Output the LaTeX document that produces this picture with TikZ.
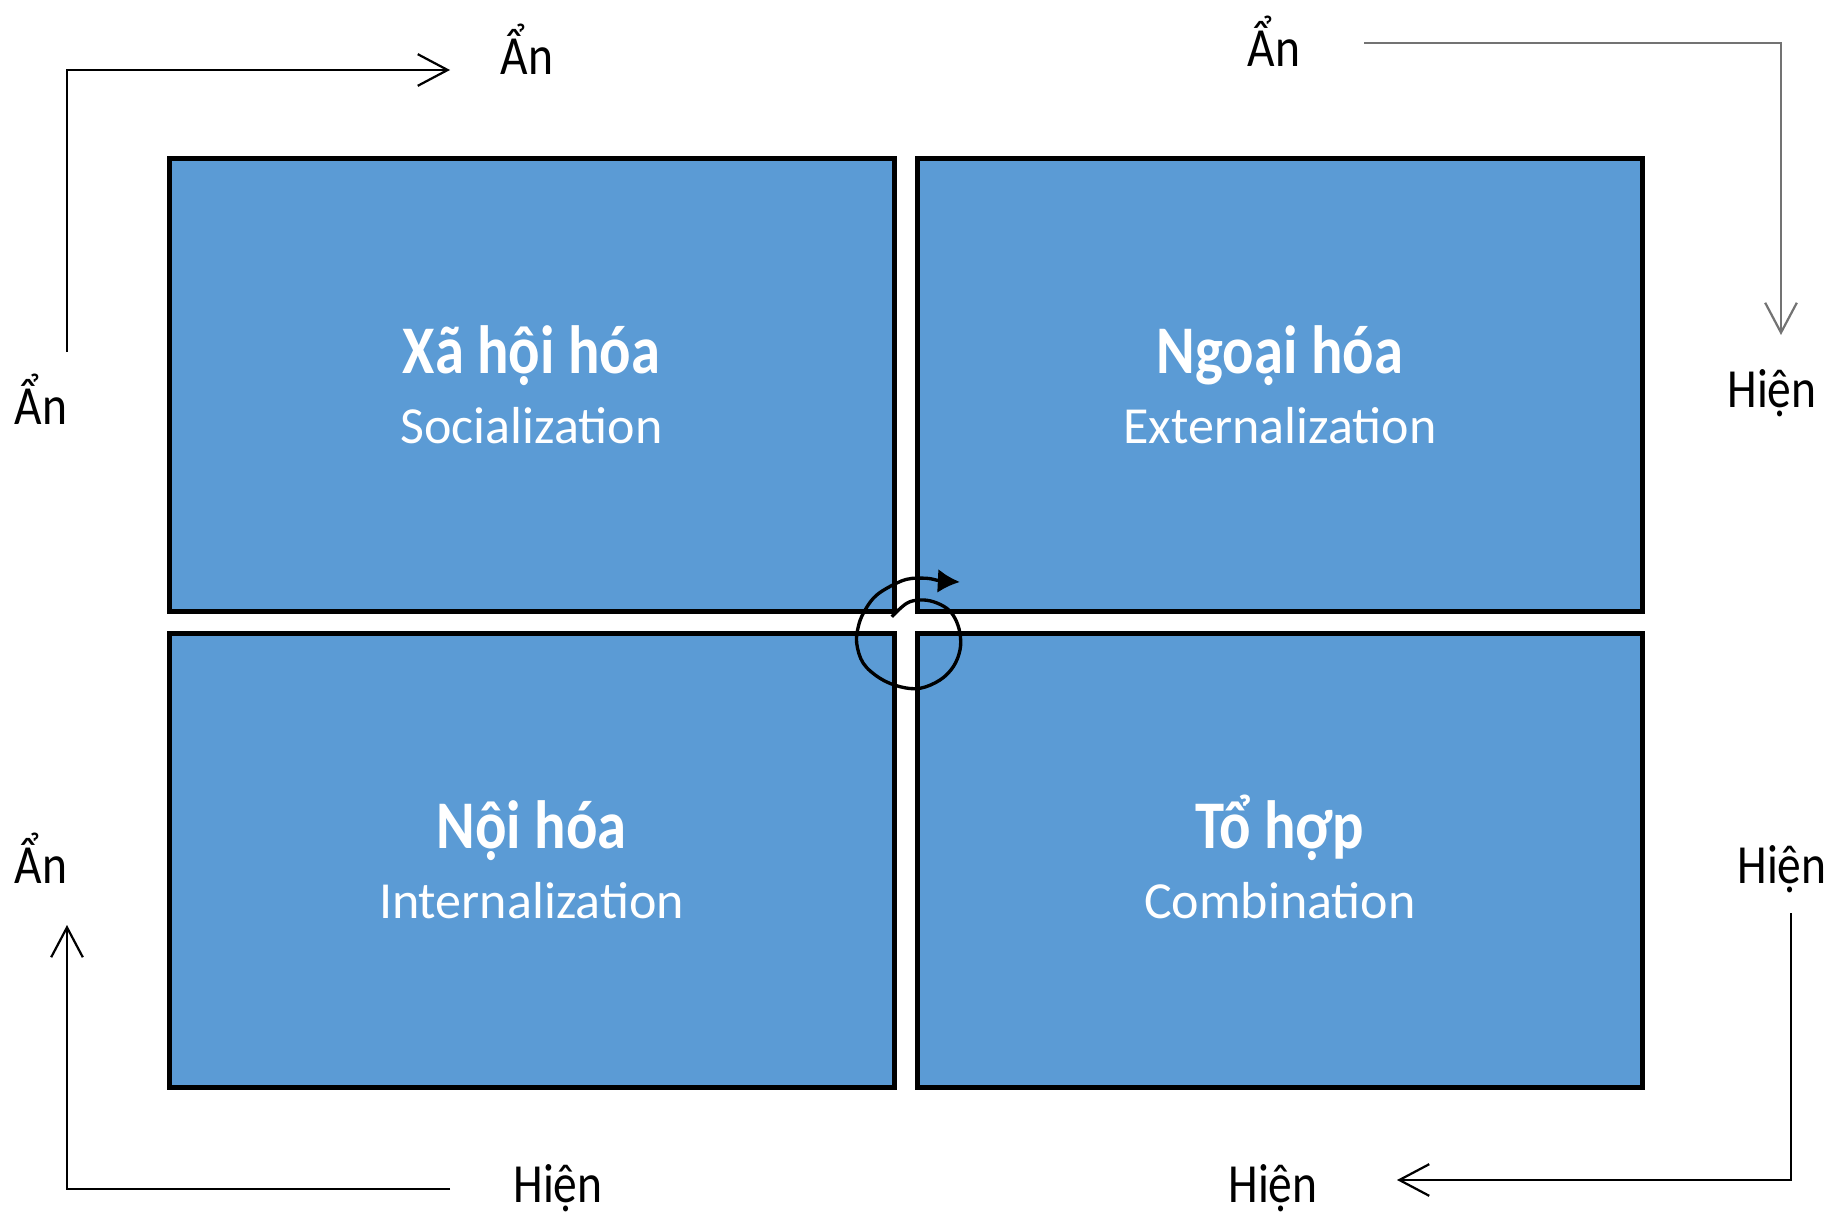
\documentclass[tikz,border=0pt]{standalone}
\usepackage{fontspec}
\setmainfont{Carlito}
\newfontfamily\narrowfont{Carlito}[FakeStretch=0.86]
\usetikzlibrary{arrows.meta}
\definecolor{quadblue}{HTML}{5B9BD5}
\begin{document}
\begin{tikzpicture}[x=0.01cm, y=-0.01cm,
  quad/.style={draw=black, fill=quadblue, line width=1.42pt,
    minimum width=7.25cm, minimum height=4.53cm, inner sep=0pt, outer sep=0pt},
  headtext/.style={anchor=base, text=white, inner sep=0pt,
    font=\narrowfont\bfseries\fontsize{19.4pt}{20pt}\selectfont},
  subtext/.style={anchor=base, text=white, inner sep=0pt,
    font=\fontsize{14.8pt}{16pt}\selectfont},
  side/.style={anchor=base, inner sep=0pt,
    font=\narrowfont\fontsize{15.7pt}{17pt}\selectfont},
  flow/.style={line width=0.63pt, -{Straight Barb[length=8.5pt, width=9pt]}}]
  \useasboundingbox (0,0) rectangle (1841,1212);

  \node[quad] (soc) at (532,385) {};
  \node[quad] (ext) at (1280,385) {};
  \node[quad] (int) at (532,860.5) {};
  \node[quad] (com) at (1280,860.5) {};

  \node[headtext] (socH) at (531.5,373) {Xã hội hóa};
  \node[subtext] (socS) at (531.5,443) {Socialization};
  \node[headtext] (extH) at (1280,373) {Ngoại hóa};
  \node[subtext] (extS) at (1280,443) {Externalization};
  \node[headtext] (intH) at (531.5,848.5) {Nội hóa};
  \node[subtext] (intS) at (531.5,918.5) {Internalization};
  \node[headtext] (comH) at (1280,848.5) {Tổ hợp};
  \node[subtext] (comS) at (1280,918.5) {Combination};

  \node[side] (anTop) at (527,74) {Ẩn};
  \node[side] (anLeft) at (41,424) {Ẩn};
  \node[side] (anRight) at (1274,66) {Ẩn};
  \node[side] (hienRight) at (1772,407) {Hiện};
  \node[side] (hienLow) at (1782,883) {Hiện};
  \node[side] (hienBotR) at (1273,1202) {Hiện};
  \node[side] (hienBotL) at (558,1202) {Hiện};
  \node[side] (anLow) at (41,883) {Ẩn};

  \coordinate (tlStart) at (67,352);
  \coordinate (tlEnd) at (450,70);
  \coordinate (trStart) at (1364,43);
  \coordinate (trEnd) at (1781,335);
  \coordinate (brStart) at (1791,913);
  \coordinate (brEnd) at (1397,1180);
  \coordinate (blStart) at (450,1189);
  \coordinate (blEnd) at (67,925);
  \draw[flow] (tlStart) |- (tlEnd);
  \draw[flow, draw=black!55] (trStart) -| (trEnd);
  \draw[flow] (brStart) |- (brEnd);
  \draw[flow] (blStart) -| (blEnd);

  \draw[line width=0.95pt, -{Latex[length=6.3pt, width=6.8pt]}]
    plot[smooth, tension=0.6] coordinates {(891.7,616.7) (906.7,603.3)
    (920,600) (933.3,601.7) (946.7,608.3) (955,618.3) (960,633.3)
    (960,650) (953.3,666.7) (940,680) (920,688.3) (900,686.7)
    (880,678.3) (863.3,663.3) (856.7,643.3) (858.3,626.7) (863.3,613.3)
    (873.3,598.3) (886.7,588.3) (906.7,579.3) (926.7,578.3) (940,580.7)
    (960,582)};
\end{tikzpicture}
\end{document}
